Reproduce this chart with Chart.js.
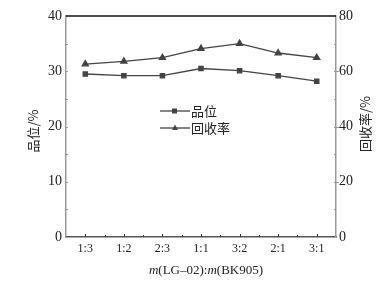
<!DOCTYPE html>
<html>
<head>
<meta charset="utf-8">
<script src="https://cdn.jsdelivr.net/npm/chart.js@4"></script>
<style>
  html, body { margin: 0; padding: 0; background: #fff; }
  #wrap { width: 391px; height: 284px; position: relative; }
</style>
</head>
<body>
<div id="wrap"><canvas id="chart"></canvas></div>
<script>
// Data
const ratios = ['1:3', '1:2', '2:3', '1:1', '3:2', '2:1', '3:1'];
const grade = [29.5, 29.2, 29.2, 30.5, 30.1, 29.2, 28.2];      // 品位/%
const recovery = [62.6, 63.6, 64.9, 68.2, 70.0, 66.6, 64.9];   // 回收率/%
const leftTicks = [0, 10, 20, 30, 40];
const rightTicks = [0, 20, 40, 60, 80];

const serif = '"Liberation Serif", "DejaVu Serif", serif';
const cjk = '"Noto Sans CJK SC", sans-serif';
const lineColor = '#444';

// Frame, minor ticks, in-plot legend and axis titles
const decorations = {
  id: 'decorations',
  afterDraw(chart) {
    const { ctx, chartArea: a, scales } = chart;
    const x = scales.x, yl = scales.y, yr = scales.y1;
    ctx.save();
    // top border
    ctx.strokeStyle = '#111';
    ctx.lineWidth = 1.5;
    ctx.beginPath();
    ctx.moveTo(a.left, a.top);
    ctx.lineTo(a.right, a.top);
    ctx.stroke();

    // ticks on y axes (inward, including minor)
    ctx.strokeStyle = '#999';
    ctx.lineWidth = 1;
    for (let v = 5; v < 40; v += 5) {
      const py = Math.round(yl.getPixelForValue(v)) + 0.5;
      ctx.beginPath();
      ctx.moveTo(a.left, py);
      ctx.lineTo(a.left + 2, py);
      ctx.stroke();
    }
    for (let v = 10; v < 80; v += 10) {
      const py = Math.round(yr.getPixelForValue(v)) + 0.5;
      ctx.beginPath();
      ctx.moveTo(a.right, py);
      ctx.lineTo(a.right - 2, py);
      ctx.stroke();
      if (v % 20 === 0) {
        ctx.beginPath();
        ctx.moveTo(a.right, py);
        ctx.lineTo(a.right + 3, py);
        ctx.stroke();
      }
    }
    // ticks on x axis (upward, at categories and between)
    ctx.strokeStyle = '#333';
    ratios.forEach((r, i) => {
      const px = Math.round(x.getPixelForValue(i)) + 0.5;
      ctx.beginPath();
      ctx.moveTo(px, a.bottom);
      ctx.lineTo(px, a.bottom - 3);
      ctx.stroke();
      if (i < ratios.length - 1) {
        const mx = Math.round((x.getPixelForValue(i) + x.getPixelForValue(i + 1)) / 2) + 0.5;
        ctx.beginPath();
        ctx.moveTo(mx, a.bottom);
        ctx.lineTo(mx, a.bottom - 2);
        ctx.stroke();
      }
    });

    // legend inside the plot
    const items = chart.data.datasets;
    items.forEach((ds, i) => {
      const ly = 111 + i * 17;
      const lx = 160;
      ctx.strokeStyle = lineColor;
      ctx.lineWidth = 1.3;
      ctx.beginPath();
      ctx.moveTo(lx, ly);
      ctx.lineTo(lx + 30, ly);
      ctx.stroke();
      ctx.fillStyle = lineColor;
      if (ds.pointStyle === 'rect') {
        ctx.fillRect(lx + 12, ly - 2.5, 5, 5);
      } else {
        ctx.beginPath();
        ctx.moveTo(lx + 15, ly - 3.5);
        ctx.lineTo(lx + 18, ly + 2);
        ctx.lineTo(lx + 12, ly + 2);
        ctx.closePath();
        ctx.fill();
      }
      ctx.fillStyle = '#222';
      ctx.font = '13px ' + cjk;
      ctx.textBaseline = 'middle';
      ctx.textAlign = 'left';
      ctx.fillText(ds.label, lx + 31, ly);
    });

    // axis titles
    ctx.fillStyle = '#222';
    ctx.font = '13px ' + cjk;
    ctx.textAlign = 'center';
    ctx.textBaseline = 'middle';
    ctx.save();
    ctx.translate(33, 131);
    ctx.rotate(-Math.PI / 2);
    ctx.fillText('品位/%', 0, 0);
    ctx.restore();
    ctx.save();
    ctx.translate(365, 124);
    ctx.rotate(-Math.PI / 2);
    ctx.fillText('回收率/%', 0, 0);
    ctx.restore();

    // x title with italic m
    const parts = [
      ['m', 'italic 13px ' + serif], ['(LG\u201302):', '13px ' + serif],
      ['m', 'italic 13px ' + serif], ['(BK905)', '13px ' + serif]
    ];
    let total = 0;
    parts.forEach(p => { ctx.font = p[1]; total += ctx.measureText(p[0]).width; });
    let cx = 206 - total / 2;
    ctx.textAlign = 'left';
    parts.forEach(p => {
      ctx.font = p[1];
      ctx.fillText(p[0], cx, 271);
      cx += ctx.measureText(p[0]).width;
    });
    ctx.restore();
  }
};

new Chart(document.getElementById('chart'), {
  type: 'line',
  data: {
    labels: ratios,
    datasets: [
      {
        label: '品位',
        data: grade,
        yAxisID: 'y',
        borderColor: lineColor,
        backgroundColor: lineColor,
        borderWidth: 1.3,
        pointStyle: 'rect',
        pointRadius: 3,
        tension: 0
      },
      {
        label: '回收率',
        data: recovery,
        yAxisID: 'y1',
        borderColor: lineColor,
        backgroundColor: lineColor,
        borderWidth: 1.3,
        pointStyle: 'triangle',
        pointRadius: 3.5,
        tension: 0
      }
    ]
  },
  options: {
    responsive: true,
    maintainAspectRatio: false,
    animation: false,
    layout: { padding: { top: 16, left: 0, right: 0, bottom: 0 } },
    plugins: {
      legend: { display: false },
      tooltip: { enabled: false }
    },
    scales: {
      x: {
        offset: true,
        grid: { display: false, drawTicks: false },
        border: { color: '#555', width: 1.5 },
        ticks: {
          color: '#222',
          font: { family: serif, size: 12 },
          padding: 5,
          maxRotation: 0
        },
        afterFit: s => { s.height = 47; }
      },
      y: {
        position: 'left',
        min: 0,
        max: 40,
        grid: { display: false, drawTicks: false },
        border: { color: '#999', width: 1.5 },
        afterBuildTicks: s => { s.ticks = leftTicks.map(v => ({ value: v })); },
        ticks: {
          color: '#222',
          font: { family: serif, size: 14 },
          padding: 4
        },
        afterFit: s => { s.width = 66; }
      },
      y1: {
        position: 'right',
        min: 0,
        max: 80,
        grid: { display: false, drawTicks: false },
        border: { color: '#999', width: 1.5 },
        afterBuildTicks: s => { s.ticks = rightTicks.map(v => ({ value: v })); },
        ticks: {
          color: '#222',
          font: { family: serif, size: 14 },
          padding: 3
        },
        afterFit: s => { s.width = 55; }
      }
    }
  },
  plugins: [decorations]
});
</script>
</body>
</html>
